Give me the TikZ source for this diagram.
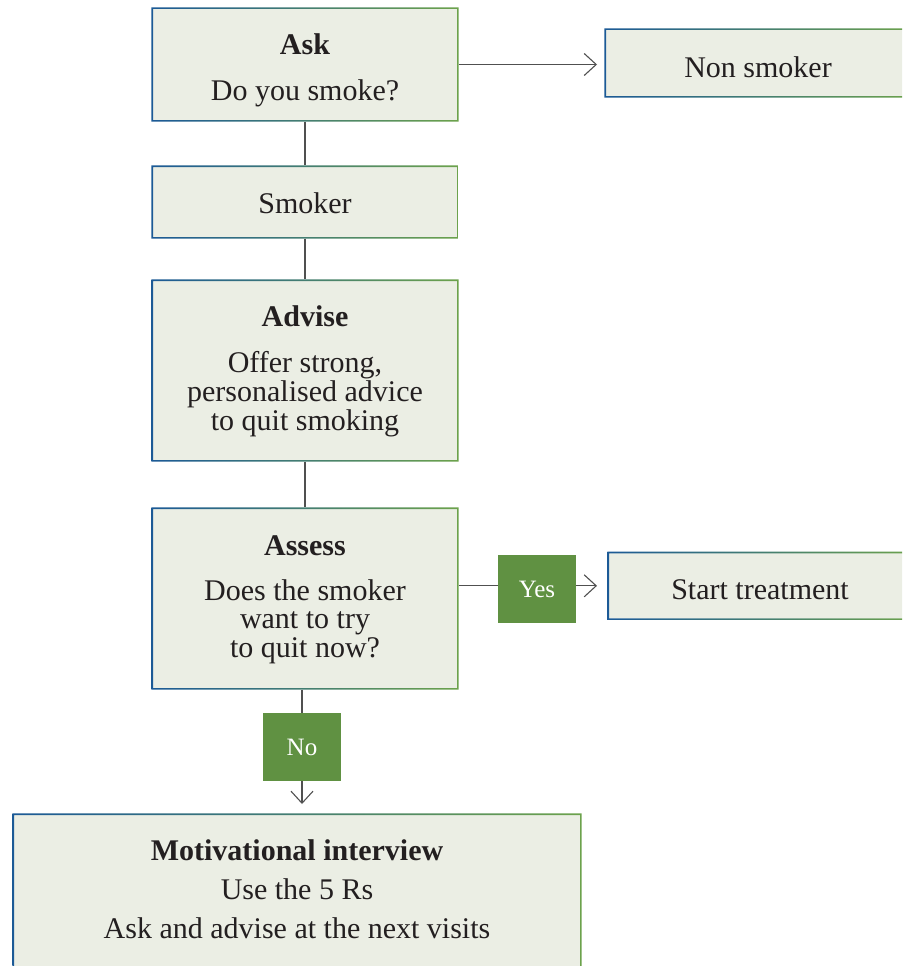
\documentclass[tikz,border=0pt]{standalone}
\usepackage{fontspec}
\setmainfont{Liberation Serif}
\usetikzlibrary{arrows.meta}
\definecolor{boxfill}{RGB}{235,238,228}
\definecolor{bblue}{RGB}{28,90,150}
\definecolor{bgreen}{RGB}{108,162,76}
\definecolor{tagfill}{RGB}{96,145,66}
\definecolor{linec}{RGB}{80,80,80}
\definecolor{textc}{RGB}{35,31,32}
\newcommand{\gframe}[1]{\shade[left color=bblue,right color=bgreen,even odd rule] ([xshift=-1.6pt,yshift=-1.6pt]#1.south west) rectangle ([xshift=1.6pt,yshift=1.6pt]#1.north east) (#1.south west) rectangle (#1.north east);}
\begin{document}
\begin{tikzpicture}[x=1pt,y=-1pt,
  box/.style={rectangle,fill=boxfill,draw=none,inner sep=0pt,outer sep=0pt},
  tag/.style={rectangle,fill=tagfill,inner sep=0pt,outer sep=0pt,minimum width=78pt,minimum height=68pt,text=white,font=\fontsize{25}{25}\selectfont},
  txt/.style={anchor=base,text=textc,inner sep=0pt,font=\fontsize{30}{30}\selectfont},
  ttl/.style={anchor=base,text=textc,inner sep=0pt,font=\fontsize{30}{30}\selectfont\bfseries},
  conn/.style={draw=linec,line width=1.1pt},
  arr/.style={conn,-{Straight Barb[length=12pt,width=22pt]},shorten >=9pt}]
\useasboundingbox (0,0) rectangle (902,966);
\clip (0,0) rectangle (902,966);
% boxes
\node[box,minimum width=304pt,minimum height=111pt] (ask) at (305,64.5) {};
\node[box,minimum width=304pt,minimum height=66pt] (non) at (758,63) {};
\node[box,minimum width=304pt,minimum height=70pt] (smoker) at (305,202) {};
\node[box,minimum width=304pt,minimum height=179pt] (advise) at (305,370.5) {};
\node[box,minimum width=304pt,minimum height=179pt] (assess) at (305,598.5) {};
\node[box,minimum width=304pt,minimum height=65pt] (start) at (761,585.8) {};
\node[box,minimum width=566pt,minimum height=168pt] (motiv) at (297,899) {};
\gframe{ask}
\gframe{non}
\gframe{smoker}
\gframe{advise}
\gframe{assess}
\gframe{start}
\gframe{motiv}
% tags
\node[tag] (yes) at (537,589) {Yes};
\node[tag] (no) at (302,747) {No};
% texts
\node[ttl] (askT) at (305,55) {Ask};
\node[txt] (askL) at (305,100) {Do you smoke?};
\node[txt] (nonT) at (758,77.5) {Non smoker};
\node[txt] (smokerT) at (305,213.5) {Smoker};
\node[ttl] (adviseT) at (305,326) {Advise};
\node[txt] (adviseL1) at (305,372.5) {Offer strong,};
\node[txt] (adviseL2) at (305,401.5) {personalised advice};
\node[txt] (adviseL3) at (305,430.5) {to quit smoking};
\node[ttl] (assessT) at (305,555) {Assess};
\node[txt] (assessL1) at (305,600) {Does the smoker};
\node[txt] (assessL2) at (305,628.5) {want to try};
\node[txt] (assessL3) at (305,657) {to quit now?};
\node[txt] (startT) at (760,599.5) {Start treatment};
\node[ttl] (motivT) at (297,860) {Motivational interview};
\node[txt] (motivL1) at (297,899.5) {Use the 5 Rs};
\node[txt] (motivL2) at (297,938.5) {Ask and advise at the next visits};
% connectors
\draw[arr,shorten >=9pt] (ask.east) ++(1.6pt,0) -- (ask.east -| non.west);
\draw[conn] ([yshift=-1.6pt]ask.south) -- ([yshift=1.6pt]smoker.north);
\draw[conn] ([yshift=-1.6pt]smoker.south) -- ([yshift=1.6pt]advise.north);
\draw[conn] ([yshift=-1.6pt]advise.south) -- ([yshift=1.6pt]assess.north);
\draw[conn] ([xshift=1.6pt]assess.east |- start.west) -- (yes.west |- start.west);
\draw[arr,shorten >=12pt] (yes.east |- start.west) -- (start.west);
\draw[conn] ([yshift=-1.6pt]assess.south -| no.north) -- (no.north);
\draw[arr,shorten >=11pt] (no.south) -- (no.south |- motiv.north);
\end{tikzpicture}
\end{document}
